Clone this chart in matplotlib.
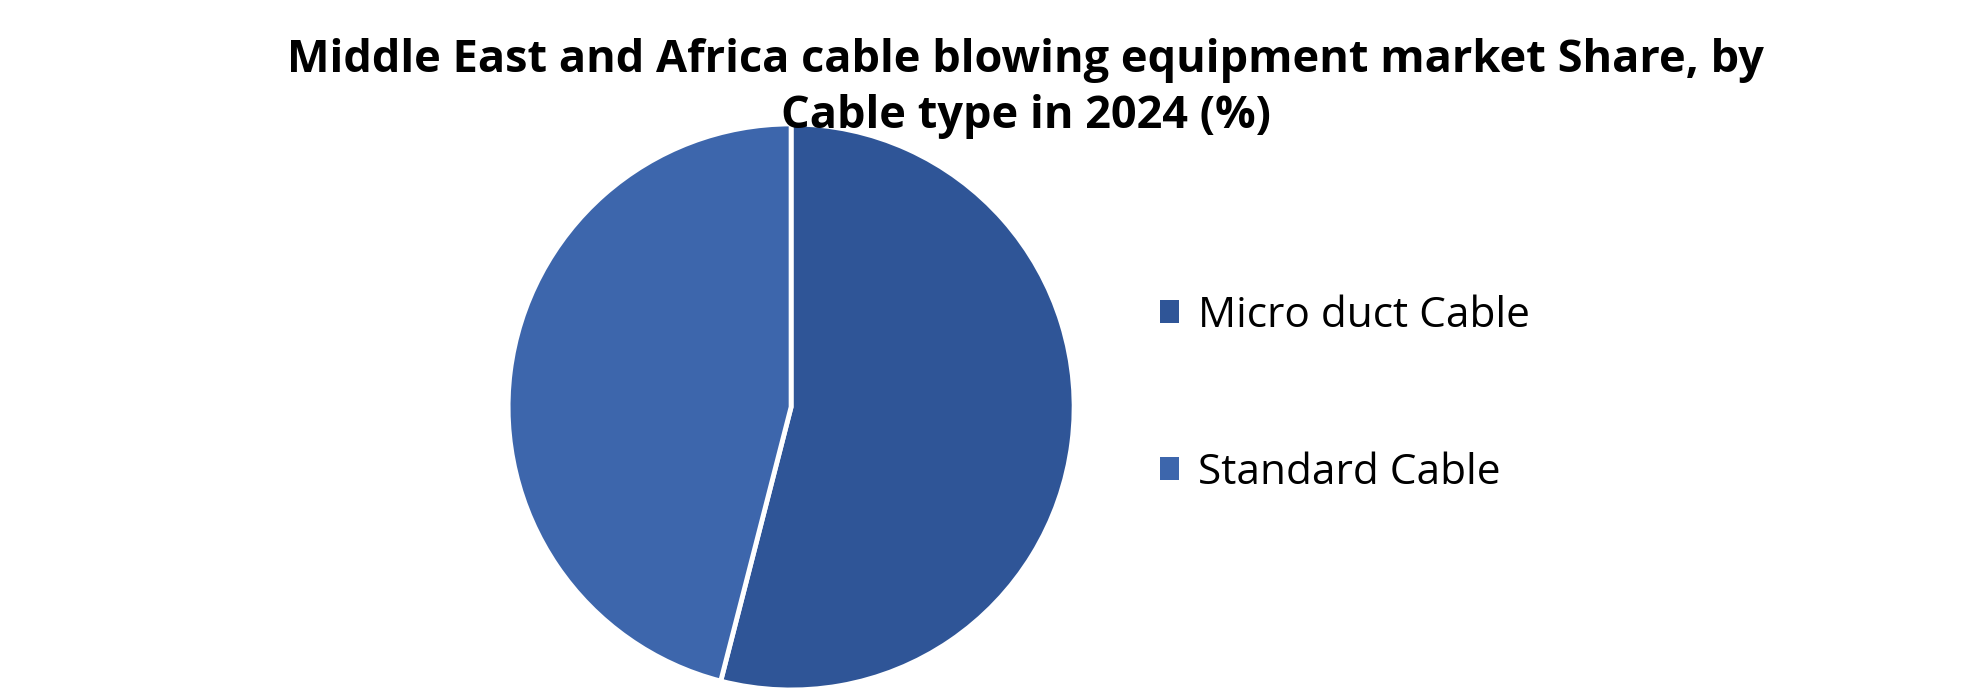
import matplotlib
matplotlib.use("Agg")
import matplotlib.pyplot as plt
from matplotlib.patches import Patch

categories = ["Micro duct Cable", "Standard Cable"]
shares = [54.0, 46.0]
colors = ["#2F5597", "#3D66AC"]
title = "Middle East and Africa cable blowing equipment market Share, by\nCable type in 2024 (%)"

plt.rcParams['font.family'] = ['Open Sans', 'DejaVu Sans']

fig = plt.figure(figsize=(19.8, 6.94), dpi=100)
ax = fig.add_axes([0.2566, 0.0058, 0.2859, 0.8156])
ax.pie(shares, colors=colors, startangle=90, counterclock=False,
       wedgeprops=dict(edgecolor="white", linewidth=3.5))
ax.set_xlim(-1.0, 1.0)
ax.set_ylim(-1.0, 1.0)
ax.set_aspect('equal')

fig.text(0.518, 0.945, title, ha="center", va="top", fontsize=32.5,
         fontweight="bold", linespacing=1.33)

handles = [Patch(facecolor=c, edgecolor="none") for c in colors]
fig.legend(handles, categories, loc="center left", bbox_to_anchor=(0.5665, 0.432),
           frameon=False, fontsize=30.5, handlelength=0.46, handleheight=0.46,
           handletextpad=0.45, labelspacing=2.72)

fig.savefig("out.png", dpi=100)
